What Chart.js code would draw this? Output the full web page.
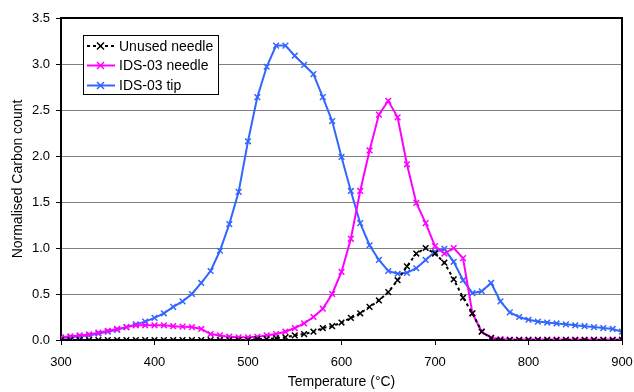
<!DOCTYPE html>
<html>
<head>
<meta charset="utf-8">
<script src="https://cdn.jsdelivr.net/npm/chart.js@4/dist/chart.umd.min.js"></script>
<style>
  body { margin: 0; background: #fff; }
  #wrap { width: 634px; height: 392px; position: relative; }
</style>
</head>
<body>
<div id="wrap"><canvas id="grafica"></canvas></div>
<script>
const temperaturas = [300, 310, 320, 330, 340, 350, 360, 370, 380, 390,
  400, 410, 420, 430, 440, 450, 460, 470, 480, 490,
  500, 510, 520, 530, 540, 550, 560, 570, 580, 590,
  600, 610, 620, 630, 640, 650, 660, 670, 680, 690,
  700, 710, 720, 730, 740, 750, 760, 770, 780, 790,
  800, 810, 820, 830, 840, 850, 860, 870, 880, 890, 900]

const unusedNeedle = [0, 0, 0, 0, 0, 0, 0, 0, 0, 0,
  0, 0, 0, 0, 0, 0, 0, 0, 0, 0,
  0, 0.01, 0.01, 0.02, 0.03, 0.05, 0.065, 0.09, 0.13, 0.15,
  0.19, 0.24, 0.29, 0.36, 0.43, 0.52, 0.65, 0.8, 0.94, 1.0,
  0.94, 0.84, 0.66, 0.46, 0.29, 0.09, 0.02, 0, 0, 0,
  0, 0, 0, 0, 0, 0, 0, 0, 0, 0, 0]

const ids03Needle = [0.03, 0.04, 0.05, 0.06, 0.08, 0.1, 0.12, 0.14, 0.16, 0.16,
  0.16, 0.16, 0.15, 0.145, 0.14, 0.12, 0.065, 0.05, 0.036, 0.03,
  0.03, 0.035, 0.05, 0.065, 0.09, 0.13, 0.18, 0.25, 0.34, 0.5,
  0.74, 1.1, 1.62, 2.06, 2.45, 2.6, 2.42, 1.91, 1.49, 1.27,
  1.02, 0.94, 1.0, 0.89, 0.29, 0.09, 0.025, 0.01, 0.005, 0.005,
  0.005, 0.005, 0.005, 0.005, 0.005, 0.005, 0.005, 0.005, 0.005, 0.005, 0.005]

const ids03Tip = [0.02, 0.03, 0.04, 0.05, 0.07, 0.09, 0.11, 0.14, 0.17, 0.2,
  0.24, 0.29, 0.36, 0.42, 0.5, 0.62, 0.75, 0.97, 1.26, 1.61,
  2.16, 2.64, 2.97, 3.2, 3.2, 3.09, 2.99, 2.89, 2.64, 2.38,
  1.99, 1.62, 1.27, 1.03, 0.87, 0.75, 0.72, 0.73, 0.78, 0.87,
  0.96, 0.99, 0.85, 0.65, 0.51, 0.53, 0.62, 0.42, 0.3, 0.25,
  0.22, 0.2, 0.19, 0.18, 0.17, 0.16, 0.15, 0.14, 0.13, 0.12, 0.09]

const yTicks = [0, 0.5, 1.0, 1.5, 2.0, 2.5, 3.0, 3.5]
const xTicks = [300, 400, 500, 600, 700, 800, 900]

const fuente = 'Liberation Sans, Arial, sans-serif'

function puntos(valores) {
  return temperaturas.map((t, i) => ({ x: t, y: valores[i] }))
}

function serie(label, valores, color, dash) {
  return {
    label: label,
    data: puntos(valores),
    borderColor: color,
    backgroundColor: color,
    borderWidth: 2,
    borderDash: dash,
    pointStyle: 'crossRot',
    pointRadius: 4,
    pointBorderWidth: 1.5,
    pointBorderColor: color,
    tension: 0
  }
}

// recuadro del area y leyenda dentro de la grafica
const marco = {
  id: 'marco',
  afterDraw(chart) {
    const c = chart.ctx
    const a = chart.chartArea
    c.save()
    c.strokeStyle = '#000'
    c.lineWidth = 2
    c.beginPath()
    c.moveTo(a.left, a.top)
    c.lineTo(a.right, a.top)
    c.lineTo(a.right, a.bottom)
    c.stroke()

    // leyenda
    c.fillStyle = '#fff'
    c.fillRect(83, 35, 135, 59)
    c.lineWidth = 1
    c.strokeStyle = '#000'
    c.strokeRect(83.5, 35.5, 135, 59)
    c.font = '14px ' + fuente
    c.textBaseline = 'middle'
    const filas = [46, 65.5, 85.5]
    chart.data.datasets.forEach((ds, i) => {
      const y = filas[i]
      c.strokeStyle = ds.borderColor
      c.lineWidth = 2
      c.setLineDash(ds.borderDash || [])
      c.beginPath()
      c.moveTo(87, y)
      c.lineTo(115, y)
      c.stroke()
      c.setLineDash([])
      c.lineWidth = 1.5
      c.beginPath()
      c.moveTo(97, y - 3.5); c.lineTo(104, y + 3.5)
      c.moveTo(104, y - 3.5); c.lineTo(97, y + 3.5)
      c.stroke()
      c.fillStyle = '#000'
      c.fillText(ds.label, 119, y + 1)
    })
    c.restore()
  }
}

const ctx = document.getElementById('grafica').getContext('2d')

var miGrafica = new Chart(ctx, {
  type: 'line',
  data: {
    datasets: [
      serie('Unused needle', unusedNeedle, '#000000', [3, 3]),
      serie('IDS-03 needle', ids03Needle, '#ff00ff', []),
      serie('IDS-03 tip', ids03Tip, '#3366ff', [])
    ]
  },
  options: {
    responsive: true,
    maintainAspectRatio: false,
    animation: false,
    layout: { padding: { top: 18, right: 12, left: 0, bottom: 0 } },
    plugins: {
      legend: { display: false },
      tooltip: { enabled: false }
    },
    scales: {
      x: {
        type: 'linear',
        min: 300,
        max: 900,
        afterBuildTicks: (s) => { s.ticks = xTicks.map(v => ({ value: v })) },
        afterFit: (s) => { s.height = 52; s.paddingLeft = 0; s.paddingRight = 0 },
        border: { color: '#000', width: 2 },
        grid: { drawOnChartArea: false, tickLength: 5, tickColor: '#000', tickWidth: 1 },
        ticks: { color: '#000', font: { family: fuente, size: 13 }, padding: 10, maxRotation: 0 },
        title: { display: true, text: 'Temperature (°C)', color: '#000', font: { family: fuente, size: 14 }, padding: { top: 0, bottom: 1 } }
      },
      y: {
        min: 0,
        max: 3.5,
        afterBuildTicks: (s) => { s.ticks = yTicks.map(v => ({ value: v })) },
        afterFit: (s) => { s.width = 61 },
        border: { color: '#000', width: 2 },
        grid: { color: '#808080', lineWidth: 1, tickLength: 5, tickColor: '#000' },
        ticks: { color: '#000', font: { family: fuente, size: 13 }, padding: 6, callback: (v) => v.toFixed(1) },
        title: { display: true, text: 'Normalised Carbon count', color: '#000', font: { family: fuente, size: 14 }, padding: { top: 10, bottom: 0 } }
      }
    }
  },
  plugins: [marco]
})
</script>
</body>
</html>
